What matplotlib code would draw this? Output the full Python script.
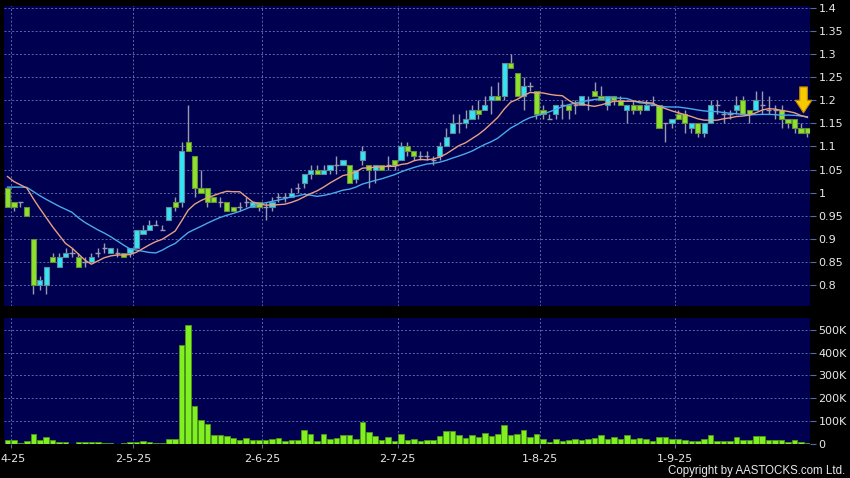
import numpy as np
import matplotlib
matplotlib.use("Agg")
import matplotlib.pyplot as plt
from matplotlib.ticker import FuncFormatter, FixedLocator

# ---------------- data ----------------
opens = [1.01, 0.98, 0.98, 0.97, 0.90, 0.80, 0.80, 0.86, 0.84, 0.86,
         0.87, 0.86, 0.85, 0.85, 0.87, 0.88, 0.87, 0.87, 0.87, 0.87,
         0.88, 0.91, 0.92, 0.93, 0.92, 0.94, 0.98, 0.98, 1.11, 1.08,
         1.01, 1.01, 0.99, 0.98, 0.98, 0.97, 0.97, 0.98, 0.97, 0.98,
         0.97, 0.97, 0.99, 0.99, 0.99, 1.01, 1.02, 1.04, 1.05, 1.04,
         1.05, 1.06, 1.06, 1.06, 1.03, 1.07, 1.06, 1.05, 1.06, 1.06,
         1.07, 1.07, 1.10, 1.09, 1.08, 1.08, 1.07, 1.08, 1.10, 1.13,
         1.15, 1.15, 1.16, 1.18, 1.18, 1.20, 1.21, 1.21, 1.28, 1.26,
         1.21, 1.23, 1.22, 1.18, 1.16, 1.17, 1.19, 1.19, 1.19, 1.19,
         1.20, 1.22, 1.21, 1.19, 1.21, 1.20, 1.18, 1.19, 1.19, 1.18,
         1.19, 1.19, 1.15, 1.15, 1.17, 1.17, 1.14, 1.15, 1.13, 1.15,
         1.19, 1.17, 1.17, 1.18, 1.20, 1.18, 1.18, 1.19, 1.18, 1.18,
         1.18, 1.16, 1.16, 1.14, 1.14]
highs = [1.01, 0.98, 0.98, 0.97, 0.90, 0.82, 0.84, 0.87, 0.87, 0.88,
         0.88, 0.87, 0.86, 0.87, 0.88, 0.89, 0.88, 0.88, 0.87, 0.88,
         0.92, 0.93, 0.94, 0.94, 0.93, 0.97, 0.99, 1.11, 1.19, 1.08,
         1.05, 1.01, 0.99, 0.99, 0.98, 0.97, 0.98, 0.99, 0.98, 0.98,
         0.98, 0.99, 1.00, 1.00, 1.01, 1.02, 1.04, 1.06, 1.06, 1.06,
         1.06, 1.08, 1.07, 1.06, 1.05, 1.10, 1.06, 1.06, 1.06, 1.08,
         1.07, 1.11, 1.11, 1.09, 1.09, 1.09, 1.08, 1.11, 1.14, 1.17,
         1.17, 1.18, 1.19, 1.20, 1.21, 1.23, 1.24, 1.28, 1.30, 1.26,
         1.25, 1.24, 1.22, 1.19, 1.17, 1.19, 1.20, 1.19, 1.20, 1.21,
         1.21, 1.24, 1.23, 1.21, 1.21, 1.21, 1.19, 1.20, 1.19, 1.20,
         1.21, 1.19, 1.15, 1.16, 1.18, 1.18, 1.15, 1.15, 1.15, 1.20,
         1.20, 1.18, 1.18, 1.21, 1.21, 1.18, 1.22, 1.22, 1.21, 1.19,
         1.19, 1.16, 1.16, 1.15, 1.14]
lows = [0.97, 0.96, 0.97, 0.95, 0.78, 0.79, 0.78, 0.85, 0.84, 0.86,
        0.86, 0.84, 0.84, 0.85, 0.86, 0.87, 0.87, 0.86, 0.86, 0.86,
        0.88, 0.91, 0.92, 0.93, 0.92, 0.94, 0.96, 0.97, 1.09, 0.99,
        1.00, 0.97, 0.98, 0.97, 0.96, 0.96, 0.96, 0.97, 0.97, 0.96,
        0.94, 0.96, 0.98, 0.98, 0.99, 1.00, 1.01, 1.03, 1.04, 1.04,
        1.04, 1.04, 1.06, 1.02, 1.02, 1.06, 1.01, 1.02, 1.05, 1.05,
        1.05, 1.07, 1.08, 1.07, 1.07, 1.07, 1.06, 1.07, 1.10, 1.13,
        1.13, 1.14, 1.16, 1.16, 1.18, 1.17, 1.20, 1.20, 1.27, 1.21,
        1.18, 1.22, 1.16, 1.16, 1.16, 1.16, 1.16, 1.16, 1.17, 1.19,
        1.18, 1.21, 1.20, 1.18, 1.19, 1.19, 1.15, 1.17, 1.17, 1.18,
        1.19, 1.14, 1.11, 1.14, 1.16, 1.13, 1.13, 1.12, 1.12, 1.15,
        1.17, 1.15, 1.16, 1.17, 1.17, 1.15, 1.18, 1.17, 1.17, 1.16,
        1.14, 1.14, 1.13, 1.13, 1.12]
closes = [0.97, 0.97, 0.98, 0.95, 0.80, 0.81, 0.84, 0.85, 0.86, 0.87,
          0.87, 0.84, 0.85, 0.86, 0.87, 0.88, 0.88, 0.87, 0.86, 0.88,
          0.92, 0.92, 0.93, 0.93, 0.92, 0.97, 0.97, 1.09, 1.09, 1.01,
          1.00, 0.98, 0.98, 0.98, 0.96, 0.96, 0.97, 0.98, 0.98, 0.97,
          0.97, 0.98, 0.99, 0.99, 1.00, 1.01, 1.04, 1.05, 1.04, 1.05,
          1.06, 1.06, 1.07, 1.02, 1.05, 1.09, 1.05, 1.06, 1.05, 1.06,
          1.06, 1.10, 1.09, 1.08, 1.08, 1.08, 1.07, 1.10, 1.12, 1.15,
          1.15, 1.16, 1.18, 1.17, 1.19, 1.21, 1.20, 1.28, 1.27, 1.21,
          1.23, 1.23, 1.17, 1.17, 1.16, 1.19, 1.19, 1.18, 1.19, 1.21,
          1.20, 1.21, 1.20, 1.21, 1.20, 1.19, 1.19, 1.18, 1.18, 1.19,
          1.19, 1.14, 1.15, 1.16, 1.16, 1.15, 1.15, 1.13, 1.15, 1.19,
          1.19, 1.17, 1.17, 1.19, 1.17, 1.17, 1.20, 1.19, 1.18, 1.18,
          1.16, 1.15, 1.14, 1.13, 1.13]
volumes_k = [16, 16, 4, 12, 42, 19, 29, 16, 9, 9,
             1, 7, 7, 7, 10, 6, 6, 1, 4, 7,
             7, 12, 10, 4, 4, 21, 21, 434, 520, 167,
             104, 86, 41, 38, 37, 26, 18, 25, 19, 18,
             18, 23, 25, 12, 19, 18, 63, 45, 15, 44,
             23, 26, 41, 41, 23, 98, 51, 34, 16, 32,
             12, 45, 19, 23, 13, 19, 19, 34, 57, 57,
             41, 26, 41, 31, 50, 34, 45, 85, 38, 42,
             63, 31, 45, 23, 9, 21, 15, 18, 23, 16,
             23, 26, 40, 23, 29, 23, 40, 21, 25, 21,
             15, 29, 29, 22, 22, 19, 15, 15, 22, 41,
             13, 15, 15, 29, 19, 19, 34, 34, 16, 16,
             16, 10, 18, 7, 4]
# closes before the visible window, estimated from where the averages start
prior_closes = [0.97, 0.98, 0.96, 0.98, 0.99, 1.00, 1.00, 1.01, 1.00, 1.00,
                1.08, 1.05, 1.02, 1.03, 1.02, 1.04, 1.05, 1.04, 1.05]
# first label is cut at the left edge in the reference (only "4-25" visible)
month_labels = ["4-25", "2-5-25", "2-6-25", "2-7-25", "1-8-25", "1-9-25"]
month_first_bar = [1, 20, 40, 61, 83, 104]
price_ticks = [0.8, 0.85, 0.9, 0.95, 1.0, 1.05, 1.1, 1.15, 1.2, 1.25, 1.3, 1.35, 1.4]
volume_ticks_k = [0, 100, 200, 300, 400, 500]

# ---------------- styling ----------------
BG = "#000050"
GRID = "#5868a8"
UP_FILL, UP_EDGE = "#33e4f4", "#5a8c9c"
DN_FILL, DN_EDGE = "#8ee22c", "#66903a"
WICK = "#9a9aae"
TXT = "#e8e8e8"

o = np.array(opens); h = np.array(highs); l = np.array(lows); c = np.array(closes)
v = np.array(volumes_k) * 1000.0
n = len(c)
idx = np.arange(n)

allc = np.concatenate([prior_closes, c])
def sma(arr, w):
    return np.convolve(arr, np.ones(w) / w, mode="valid")
ma10 = sma(allc, 10)[-n:]
ma20 = sma(allc, 20)[-n:]

fig = plt.figure(figsize=(8.5, 4.78), dpi=100, facecolor="black")
W, H = 850.0, 478.0
axp = fig.add_axes([4 / W, 1 - 306 / H, 806 / W, 300 / H])
axv = fig.add_axes([4 / W, 1 - 444 / H, 806 / W, 126 / H], sharex=axp)

for ax in (axp, axv):
    ax.set_facecolor(BG)
    for s in ax.spines.values():
        s.set_visible(False)
    ax.yaxis.tick_right()
    ax.tick_params(axis="y", colors=GRID, labelcolor=TXT, labelsize=8,
                   length=4, width=0.8, pad=2, direction="out")
    ax.grid(True, color=GRID, linestyle=(0, (2, 2)), linewidth=0.7)
    ax.set_axisbelow(True)

grid_x = [b - 0.5 for b in month_first_bar]
axp.set_xlim(-0.54, n - 0.6)

# price panel
axp.set_ylim(0.7545, 1.4043)
axp.yaxis.set_major_locator(FixedLocator(price_ticks))
axp.yaxis.set_major_formatter(FuncFormatter(lambda y, p: f"{round(y, 2):g}"))
axp.xaxis.set_major_locator(FixedLocator(grid_x))
axp.tick_params(axis="x", length=0, labelbottom=False)

up = c > o
dn = c < o
dj = c == o
axp.vlines(idx, l, h, color=WICK, linewidth=1.0, zorder=2)
bw = 0.8
axp.bar(idx[up], (c - o)[up], bottom=o[up], width=bw, color=UP_FILL,
        edgecolor=UP_EDGE, linewidth=0.8, zorder=3)
axp.bar(idx[dn], (o - c)[dn], bottom=c[dn], width=bw, color=DN_FILL,
        edgecolor=DN_EDGE, linewidth=0.8, zorder=3)
axp.hlines(c[dj], idx[dj] - bw / 2, idx[dj] + bw / 2, color=WICK, linewidth=1.0, zorder=3)

axp.plot(idx, ma20, color="#4aaae8", linewidth=1.0, zorder=4)
axp.plot(idx, ma10, color="#e8a080", linewidth=1.0, zorder=4)

# yellow marker arrow over the last bar
ax_x = n - 1 - 0.6
axp.annotate("", xy=(ax_x, ma10[-1] + 0.01), xytext=(ax_x, ma10[-1] + 0.066),
             arrowprops=dict(arrowstyle="simple,head_length=0.9,head_width=1.2,tail_width=0.55",
                             fc="#f8c800", ec="#c08a00", lw=0.8, mutation_scale=10,
                             shrinkA=0, shrinkB=0),
             zorder=6)

# volume panel
axv.set_ylim(0, 551000)
axv.yaxis.set_major_locator(FixedLocator([t * 1000 for t in volume_ticks_k]))
axv.yaxis.set_major_formatter(FuncFormatter(lambda y, p: "0" if y == 0 else f"{int(round(y / 1000))}K"))
axv.bar(idx, v, width=0.86, color="#80f020", edgecolor="#4c9a18", linewidth=0.6, zorder=3)
axv.xaxis.set_major_locator(FixedLocator(grid_x))
axv.set_xticklabels(month_labels)
axv.tick_params(axis="x", colors=GRID, labelcolor=TXT, labelsize=8, length=3, pad=4)
first = axv.get_xticklabels()[0]
first.set_horizontalalignment("left")
from matplotlib.transforms import offset_copy
first.set_transform(offset_copy(first.get_transform(), fig=fig, x=-10.5, units="dots"))

fig.text(845 / W, 1 - 471 / H, "Copyright by AASTOCKS.com Ltd.", color=TXT,
         fontsize=8.3, ha="right", va="center", family=["Liberation Sans", "DejaVu Sans"])

fig.savefig("out.png", dpi=100, facecolor="black")
